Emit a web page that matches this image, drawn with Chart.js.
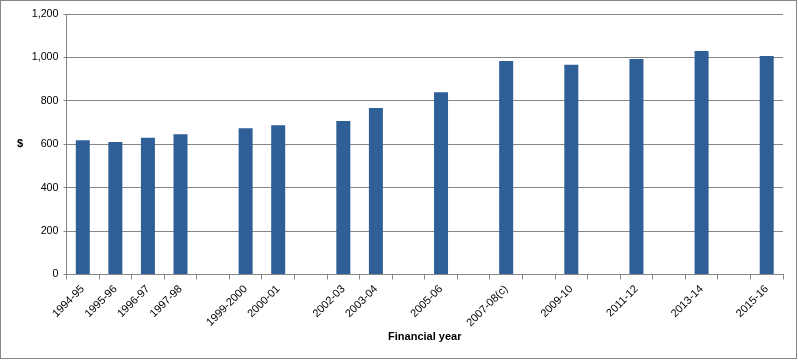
<!DOCTYPE html>
<html>
<head>
<meta charset="utf-8">
<script src="https://cdn.jsdelivr.net/npm/chart.js@4/dist/chart.umd.min.js"></script>
<style>
  html, body { margin: 0; padding: 0; background: #fff; }
  #wrap { width: 798px; height: 360px; position: relative; }
</style>
</head>
<body>
<div id="wrap"><canvas id="chart"></canvas></div>
<script>
// Financial years (empty label = gap year with no data)
const years = [
  "1994-95", "1995-96", "1996-97", "1997-98", "",
  "1999-2000", "2000-01", "", "2002-03", "2003-04", "",
  "2005-06", "", "2007-08(c)", "", "2009-10", "",
  "2011-12", "", "2013-14", "", "2015-16",
];
const amounts = [
  619, 610, 630, 646, null,
  674, 688, null, 707, 767, null,
  840, null, 983, null, 966, null,
  993, null, 1029, null, 1006,
];
const yTicks = [0, 200, 400, 600, 800, 1000, 1200];

const gridGrey = "#868686";
const barBlue = "#2f5f97";
const fontFamily = "'Liberation Sans', Arial, sans-serif";

// outer frame and the "$" label on the left
const framePlugin = {
  id: "frame",
  beforeDraw: (chart) => {
    const ctx = chart.ctx;
    ctx.save();
    ctx.fillStyle = "#fff";
    ctx.fillRect(0, 0, chart.width, chart.height);
    ctx.strokeStyle = gridGrey;
    ctx.lineWidth = 1;
    ctx.strokeRect(0.5, 0.5, 796, 358);
    ctx.restore();
  },
  afterDraw: (chart) => {
    const ctx = chart.ctx;
    const area = chart.chartArea;
    ctx.save();
    ctx.fillStyle = "#000";
    ctx.font = "bold 11px " + fontFamily;
    ctx.textAlign = "center";
    ctx.textBaseline = "middle";
    ctx.fillText("$", 20, (area.top + area.bottom) / 2);
    ctx.restore();
  },
};

const ctx = document.getElementById("chart").getContext("2d");
new Chart(ctx, {
  type: "bar",
  data: {
    labels: years,
    datasets: [
      {
        data: amounts,
        backgroundColor: barBlue,
        barPercentage: 0.43,
        categoryPercentage: 1,
      },
    ],
  },
  options: {
    responsive: true,
    maintainAspectRatio: false,
    animation: false,
    layout: { padding: { top: 14, right: 15, left: 0, bottom: 0 } },
    plugins: {
      legend: { display: false },
      tooltip: { enabled: false },
    },
    scales: {
      x: {
        grid: {
          offset: true,
          drawOnChartArea: false,
          color: gridGrey,
          tickLength: 5,
          tickColor: gridGrey,
        },
        border: { color: gridGrey },
        ticks: {
          autoSkip: false,
          maxRotation: 45,
          minRotation: 45,
          color: "#000",
          padding: 3,
          font: { family: fontFamily, size: 11 },
        },
        title: {
          display: true,
          text: "Financial year",
          color: "#000",
          font: { family: fontFamily, size: 11, weight: "bold" },
          padding: { top: 0, bottom: 16 },
        },
        afterFit: (scale) => {
          scale.height = 85.5;
        },
      },
      y: {
        min: 0,
        max: 1200,
        afterBuildTicks: (scale) => {
          scale.ticks = yTicks.map((v) => ({ value: v }));
        },
        grid: {
          color: gridGrey,
          tickLength: 3,
          tickColor: gridGrey,
        },
        border: { color: gridGrey },
        ticks: {
          color: "#000",
          padding: 5,
          font: { family: fontFamily, size: 10.7 },
          callback: (v) => v.toLocaleString("en-US"),
        },
        afterFit: (scale) => {
          scale.width = 66.5;
        },
      },
    },
  },
  plugins: [framePlugin],
});
</script>
</body>
</html>
